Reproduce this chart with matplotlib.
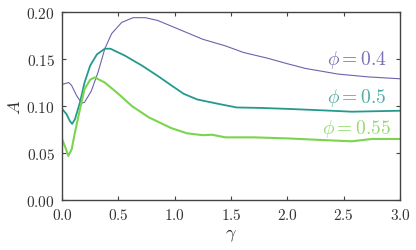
import matplotlib
matplotlib.use('Agg')
import matplotlib.pyplot as plt
from matplotlib.ticker import FormatStrFormatter

plt.rcParams['mathtext.fontset'] = 'cm'
plt.rcParams['font.family'] = 'serif'
plt.rcParams['font.serif'] = ['DejaVu Serif']

# phi = 0.4
g_04 = [0.0, 0.06, 0.085, 0.13, 0.175, 0.2, 0.26, 0.32, 0.38, 0.44, 0.53, 0.63, 0.74,
        0.85, 0.97, 1.11, 1.25, 1.45, 1.61, 1.82, 2.0, 2.16, 2.45, 2.72, 3.0]
a_04 = [0.123, 0.125, 0.122, 0.111, 0.103, 0.104, 0.116, 0.136, 0.161, 0.177, 0.189, 0.194, 0.194,
        0.191, 0.185, 0.178, 0.171, 0.164, 0.157, 0.151, 0.145, 0.140, 0.134, 0.131, 0.129]

# phi = 0.5
g_05 = [0.0, 0.04, 0.07, 0.09, 0.115, 0.16, 0.2, 0.25, 0.31, 0.38, 0.43, 0.56, 0.71,
        0.85, 0.97, 1.08, 1.2, 1.4, 1.55, 1.76, 2.0, 2.3, 2.57, 3.0]
a_05 = [0.097, 0.0915, 0.084, 0.081, 0.086, 0.104, 0.125, 0.143, 0.155, 0.161, 0.161, 0.1535, 0.143,
        0.132, 0.122, 0.113, 0.107, 0.102, 0.0985, 0.098, 0.097, 0.0955, 0.094, 0.095]

# phi = 0.55
g_055 = [0.0, 0.03, 0.056, 0.086, 0.115, 0.16, 0.2, 0.25, 0.29, 0.38, 0.5, 0.62, 0.77,
         0.97, 1.11, 1.25, 1.33, 1.45, 1.7, 2.0, 2.28, 2.57, 2.75, 3.0]
a_055 = [0.065, 0.056, 0.047, 0.054, 0.072, 0.097, 0.118, 0.128, 0.1305, 0.125, 0.113, 0.100, 0.088,
         0.0765, 0.071, 0.069, 0.0695, 0.0667, 0.0667, 0.0656, 0.064, 0.0625, 0.065, 0.065]

fig = plt.figure(figsize=(4.16, 2.51), dpi=100)
ax = fig.add_axes([0.149, 0.199, 0.813, 0.749])

c1, c2, c3 = '#7061ad', '#24998c', '#7bd44e'
ax.plot(g_04, a_04, color=c1, lw=0.8)
ax.plot(g_05, a_05, color=c2, lw=1.3)
ax.plot(g_055, a_055, color=c3, lw=1.5)

ax.text(2.88, 0.150, r'$\phi = 0.4$', color=c1, fontsize=14, ha='right', va='center', alpha=0.9)
ax.text(2.88, 0.110, r'$\phi = 0.5$', color=c2, fontsize=14, ha='right', va='center', alpha=0.8)
ax.text(2.92, 0.077, r'$\phi = 0.55$', color=c3, fontsize=14, ha='right', va='center', alpha=0.8)

ax.set_xlim(0, 3)
ax.set_ylim(0, 0.2)
ax.set_xticks([0, 0.5, 1.0, 1.5, 2.0, 2.5, 3.0])
ax.set_yticks([0, 0.05, 0.10, 0.15, 0.20])
ax.xaxis.set_major_formatter(FormatStrFormatter(r'$%.1f$'))
ax.yaxis.set_major_formatter(FormatStrFormatter(r'$%.2f$'))
ax.tick_params(direction='in', top=True, right=True, length=3, width=0.8,
               labelsize=11, colors='#444444', labelcolor='#333333', pad=5)
for s in ax.spines.values():
    s.set_color('#444444')
    s.set_linewidth(1.0)

ax.set_xlabel(r'$\gamma$', fontsize=13, color='#333333', labelpad=2)
ax.set_ylabel(r'$A$', fontsize=13, color='#333333', labelpad=2)

fig.savefig('out.png', dpi=100)
